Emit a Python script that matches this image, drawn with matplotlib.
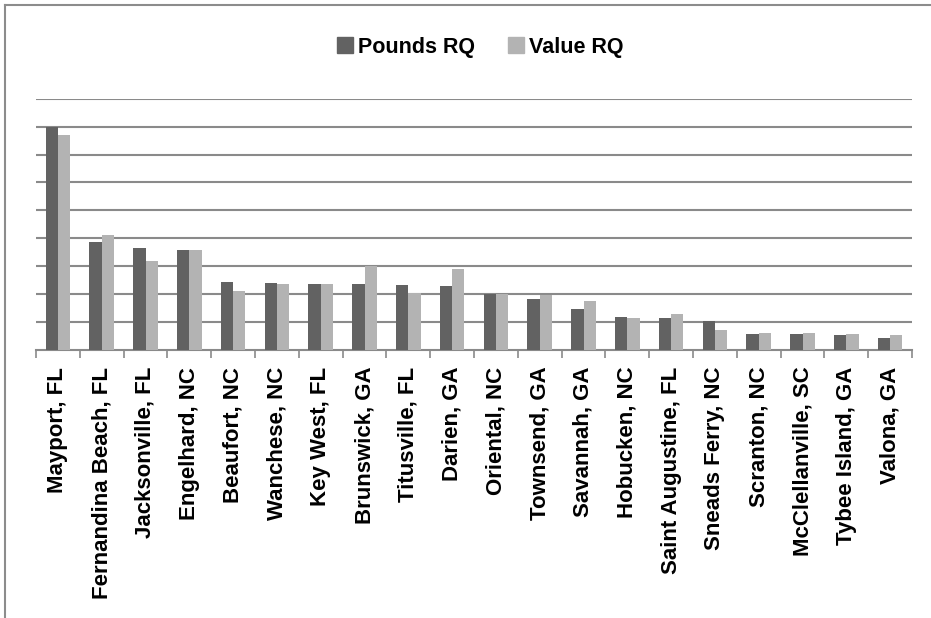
import numpy as np
import matplotlib
matplotlib.use("Agg")
import matplotlib.pyplot as plt
from matplotlib.lines import Line2D

# ports, ordered as in the chart
ports = [
    "Mayport, FL", "Fernandina Beach, FL", "Jacksonville, FL", "Engelhard, NC",
    "Beaufort, NC", "Wanchese, NC", "Key West, FL", "Brunswick, GA",
    "Titusville, FL", "Darien, GA", "Oriental, NC", "Townsend, GA",
    "Savannah, GA", "Hobucken, NC", "Saint Augustine, FL", "Sneads Ferry, NC",
    "Scranton, NC", "McClellanville, SC", "Tybee Island, GA", "Valona, GA",
]

# values (no axis labels, units = gridline steps)
pounds_rq = [8.0, 3.86, 3.64, 3.58, 2.44, 2.40, 2.38, 2.36, 2.31, 2.29,
             2.02, 1.82, 1.48, 1.18, 1.13, 1.04, 0.58, 0.56, 0.54, 0.43]
value_rq = [7.71, 4.13, 3.18, 3.57, 2.13, 2.38, 2.36, 3.02, 2.04, 2.89,
            2.01, 1.98, 1.74, 1.14, 1.30, 0.70, 0.60, 0.60, 0.57, 0.54]

DARK = "#626262"
LIGHT = "#b3b3b3"
GRID = "#8a8a8a"
FONT = "Liberation Sans"

fig = plt.figure(figsize=(9.31, 6.18), dpi=100)
ax = fig.add_axes([36 / 931, 1 - 350 / 618, (912 - 36) / 931, (350 - 98.7) / 618])

x = np.arange(len(ports))
w = 0.283
ax.bar(x - w / 2, pounds_rq, width=w, color=DARK, label="Pounds RQ", zorder=3)
ax.bar(x + w / 2, value_rq, width=w, color=LIGHT, label="Value RQ", zorder=3)

ax.set_xlim(-0.5, len(ports) - 0.5)
ax.set_ylim(0, 9)
ax.set_yticks(np.arange(1, 10))
ax.yaxis.grid(True, color=GRID, linewidth=1.5, zorder=0)
ax.tick_params(axis="y", length=0, labelleft=False)

for s in ["top", "right", "left"]:
    ax.spines[s].set_visible(False)
ax.spines["bottom"].set_color(GRID)
ax.spines["bottom"].set_linewidth(1.5)

# ticks between categories, labels at centers
ax.set_xticks(np.arange(-0.5, len(ports)), minor=False)
ax.set_xticklabels([])
ax.tick_params(axis="x", which="major", length=6, width=1.2, color=GRID, direction="out")
ax.set_xticks(x, minor=True)
ax.set_xticklabels(ports, minor=True, rotation=90, fontsize=16,
                   fontweight="bold", family=FONT, va="top", ha="center")
ax.tick_params(axis="x", which="minor", length=0, pad=12)

handles = [Line2D([], [], marker="s", linestyle="none", markersize=11,
                  markerfacecolor=c, markeredgecolor=c) for c in (DARK, LIGHT)]
fig.legend(handles, ["Pounds RQ", "Value RQ"], loc="center",
           bbox_to_anchor=(479 / 931, 1 - 47 / 618), ncol=2, frameon=False,
           prop={"family": FONT, "weight": "bold", "size": 15.5},
           handletextpad=0.1, columnspacing=1.4, handlelength=1.0)

# chart frame (top and left edges visible in the original)
fig.add_artist(Line2D([5 / 931, 1], [1 - 5 / 618] * 2, color="#8c8c8c", lw=1.5))
fig.add_artist(Line2D([5 / 931] * 2, [0, 1 - 5 / 618], color="#8c8c8c", lw=1.5))

fig.savefig("out.png", dpi=100)
